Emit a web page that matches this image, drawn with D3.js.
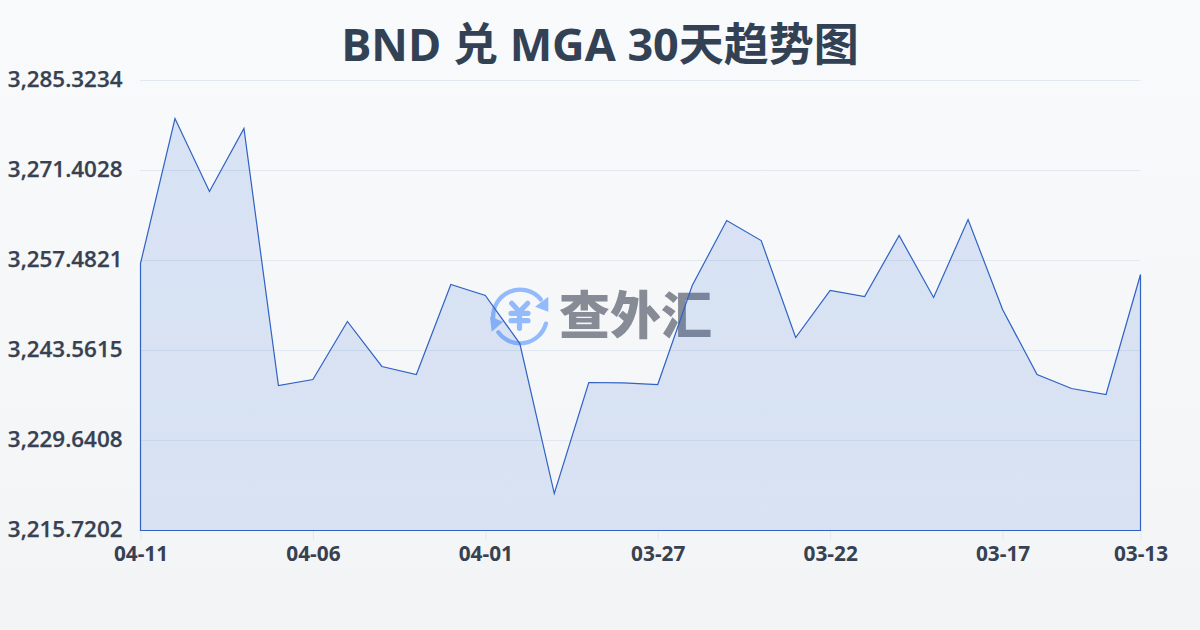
<!DOCTYPE html>
<html><head><meta charset="utf-8">
<script src="https://cdn.jsdelivr.net/npm/d3@7/dist/d3.min.js"></script>
<style>html,body{margin:0;padding:0;width:1200px;height:630px;overflow:hidden;background:#f8fafc}</style>
</head><body><div id="c"></div>
<script>
const titleText = "BND 兑 MGA 30天趋势图";
const dates = ["04-11","04-10","04-09","04-08","04-07","04-06","04-05","04-04","04-03","04-02","04-01","03-31","03-30","03-29","03-28","03-27","03-26","03-25","03-24","03-23","03-22","03-21","03-20","03-19","03-18","03-17","03-16","03-15","03-14","03-13"];
const rates = [3257.02,3279.44,3268.15,3277.90,3238.15,3239.08,3248.05,3241.09,3239.85,3253.77,3252.07,3244.64,3221.44,3238.61,3238.55,3238.30,3253.61,3263.67,3260.57,3245.57,3252.84,3251.91,3261.35,3251.76,3263.82,3249.90,3239.85,3237.68,3236.76,3255.32];
const yTicks = [3215.7202,3229.6408,3243.5615,3257.4821,3271.4028,3285.3234];
const xTickLabels = ["04-11","04-06","04-01","03-27","03-22","03-17","03-13"];
const brand = "查外汇";
const W=1200,H=630,font="'Open Sans','Noto Sans CJK SC',sans-serif";
const svg=d3.select("#c").append("svg").attr("width",W).attr("height",H).style("display","block");
const defs=svg.append("defs");
const bg=defs.append("linearGradient").attr("id","bg").attr("x1",0).attr("y1",0).attr("x2",0).attr("y2",1);
bg.append("stop").attr("offset",0).attr("stop-color","#f8fafc");
bg.append("stop").attr("offset",1).attr("stop-color","#f3f4f6");
const af=defs.append("linearGradient").attr("id","af").attr("x1",0).attr("y1",0).attr("x2",0).attr("y2",1);
af.append("stop").attr("offset",0).attr("stop-color","#2563d0").attr("stop-opacity",.15);
af.append("stop").attr("offset",1).attr("stop-color","#2563d0").attr("stop-opacity",.13);
svg.append("rect").attr("width",W).attr("height",H).attr("fill","url(#bg)");
const x=d3.scalePoint().domain(dates).range([140.5,1140.5]);
const y=d3.scaleLinear().domain([yTicks[0],yTicks[5]]).range([530.5,80.5]);
svg.append("text").attr("x",600).attr("y",61).attr("text-anchor","middle").attr("font-family",font).attr("font-size",45).attr("font-weight",700).attr("fill","#334155").text(titleText);
const gy=svg.append("g").attr("transform","translate(140.5,0)").call(d3.axisLeft(y).tickValues(yTicks).tickSize(0).tickPadding(18).tickFormat(d3.format(",.4f")));
gy.select(".domain").remove();
gy.selectAll("text").attr("font-family",font).attr("font-size",22.4).attr("font-weight",600).attr("stroke","#374151").attr("stroke-width",.25).attr("fill","#374151").attr("dy","0").attr("y",6);
svg.append("g").selectAll("line").data(yTicks.slice(1)).join("line").attr("x1",140).attr("x2",1140.5).attr("y1",d=>y(d)).attr("y2",d=>y(d)).attr("stroke","#e2e8f0").attr("stroke-width",1);
const xTickDates=dates.filter(d=>xTickLabels.includes(d));
const gx=svg.append("g").attr("transform","translate(0,530.5)").call(d3.axisBottom(x).tickValues(xTickDates).tickSize(10).tickPadding(6));
gx.select(".domain").remove();
gx.selectAll("line").attr("stroke","#e2e8f0");
gx.selectAll("text").attr("font-family",font).attr("font-size",20.8).attr("font-weight",700).attr("fill","#374151");
// watermark logo, under the translucent area
const logo=svg.append("g").attr("transform","translate(520,316.5)");
const blue="#93bbfb";
const arc=d3.arc().innerRadius(24.7).outerRadius(29).cornerRadius(2.1);
logo.append("path").attr("d",arc({startAngle:-1.75,endAngle:0.96})).attr("fill",blue);
logo.append("path").attr("d",arc({startAngle:1.76,endAngle:4.16})).attr("fill",blue);
logo.append("path").attr("d",d3.line()([[28.3,-4.8],[15,-9.8],[28.3,-19.8]])+"Z").attr("fill",blue);
logo.append("path").attr("d",d3.line()([[-30,0.2],[-16.7,5.2],[-28.3,15.2]])+"Z").attr("fill",blue);
logo.append("path").attr("d","M-8.3-13.2L-0.5-4.8L7.7-13.2M-9-3.2H8M-9 4.2H8M-0.5-4.8V11.8").attr("fill","none").attr("stroke",blue).attr("stroke-width",5.2).attr("stroke-linecap","round").attr("stroke-linejoin","round");
svg.append("text").attr("x",559).attr("y",334).attr("font-family","'Noto Sans CJK SC'").attr("font-size",51).attr("font-weight",900).attr("fill","#868b95").attr("textLength",153).text(brand);
const area=d3.area().x((d,i)=>x(dates[i])).y0(y(yTicks[0])).y1(d=>y(d));
svg.append("path").datum(rates).attr("d",area).attr("fill","url(#af)").attr("stroke","#2f62c4").attr("stroke-width",1.2);
</script></body></html>
